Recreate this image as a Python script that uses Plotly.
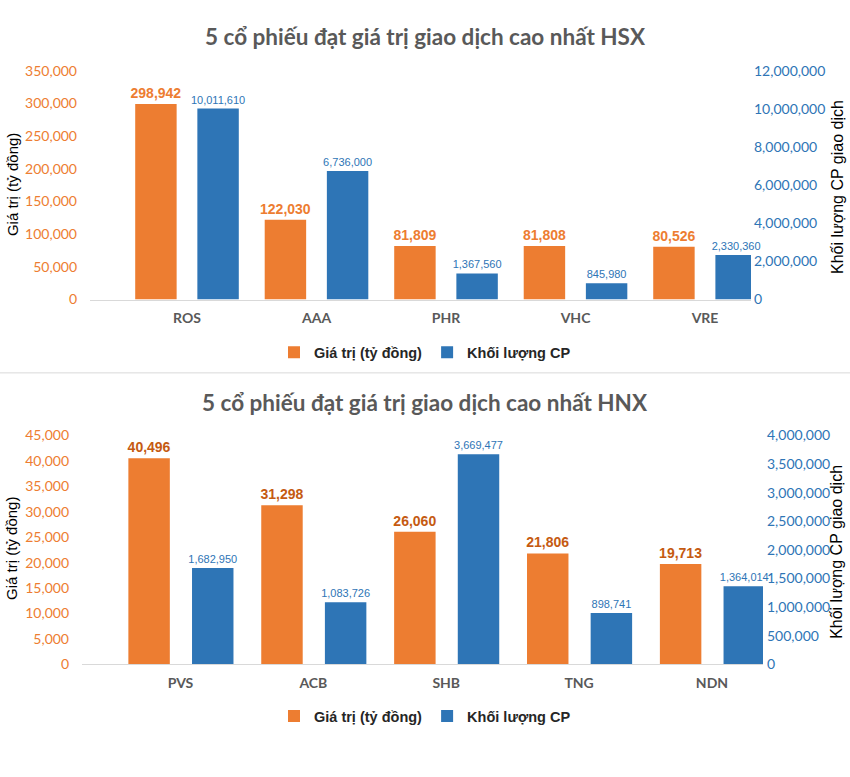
import plotly.graph_objects as go

# ---------------- data ----------------
hsx_codes = ["ROS", "AAA", "PHR", "VHC", "VRE"]
hsx_value = [298942, 122030, 81809, 81808, 80526]
hsx_volume = [10011610, 6736000, 1367560, 845980, 2330360]

hnx_codes = ["PVS", "ACB", "SHB", "TNG", "NDN"]
hnx_value = [40496, 31298, 26060, 21806, 19713]
hnx_volume = [1682950, 1083726, 3669477, 898741, 1364014]

name_value = "Giá trị (tỷ đồng)"
name_volume = "Khối lượng CP"
title_hsx = "5 cổ phiếu đạt giá trị giao dịch cao nhất HSX"
title_hnx = "5 cổ phiếu đạt giá trị giao dịch cao nhất HNX"
ytitle_left = "Giá trị (tỷ đồng)"
ytitle_right = "Khối lượng CP giao dịch"

# ---------------- styles ----------------
ORANGE = "#ED7D31"
ORANGE_DARK = "#C55A11"
BLUE = "#2E75B6"
GREY = "#595959"
W, H = 850, 777
TICKFONT = "Lato, Open Sans, sans-serif"
NARROW = "Liberation Sans Narrow, Arial Narrow, Liberation Sans, sans-serif"


def py(px):
    return (H - px) / H


def pxx(px):
    return px / W


fig = go.Figure()

bar_common = dict(texttemplate="%{y:,.0f}", textposition="outside",
                  cliponaxis=False, constraintext="none", hoverinfo="skip")

# top chart
fig.add_trace(go.Bar(
    x=hsx_codes, y=hsx_value, name=name_value, xaxis="x", yaxis="y",
    marker=dict(color=ORANGE, line=dict(width=0)), width=0.32, offset=-0.40,
    textfont=dict(family=NARROW, size=14, color=ORANGE, weight="bold"),
    legend="legend", **bar_common))
fig.add_trace(go.Bar(
    x=hsx_codes, y=hsx_volume, name=name_volume, xaxis="x", yaxis="y2",
    marker=dict(color=BLUE, line=dict(width=0)), width=0.32, offset=0.08,
    textfont=dict(family=NARROW, size=11, color=BLUE),
    legend="legend", **bar_common))

# bottom chart
fig.add_trace(go.Bar(
    x=hnx_codes, y=hnx_value, name=name_value, xaxis="x2", yaxis="y3",
    marker=dict(color=ORANGE, line=dict(width=0)), width=0.312, offset=-0.392,
    textfont=dict(family=NARROW, size=14, color=ORANGE_DARK, weight="bold"),
    legend="legend2", **bar_common))
fig.add_trace(go.Bar(
    x=hnx_codes, y=hnx_volume, name=name_volume, xaxis="x2", yaxis="y4",
    marker=dict(color=BLUE, line=dict(width=0)), width=0.312, offset=0.087,
    textfont=dict(family=NARROW, size=11, color=BLUE),
    legend="legend2", **bar_common))

xcommon = dict(type="category", showgrid=False, zeroline=False,
               showline=True, linecolor="#D9D9D9", linewidth=1.3,
               ticks="", ticklabelstandoff=6,
               tickfont=dict(family=TICKFONT, size=14, color=GREY, weight="bold"))
ycommon = dict(showgrid=False, zeroline=False, showline=False, ticks="",
               tickformat=",d")

top_dom = [py(297), py(63)]
bot_dom = [py(670), py(436)]

legend_font = dict(family="Liberation Sans, Arial, sans-serif", size=14.5,
                   color="#262626", weight="bold")

fig.update_layout(
    width=W, height=H, margin=dict(l=0, r=0, t=0, b=0),
    paper_bgcolor="white", plot_bgcolor="white",
    barmode="overlay",
    xaxis=dict(xcommon, domain=[pxx(90), pxx(751)], range=[-0.749, 4.355],
               anchor="y"),
    yaxis=dict(ycommon, domain=top_dom, range=[0, 350000], dtick=50000,
               anchor="x", ticklabelstandoff=12,
               tickfont=dict(family=TICKFONT, size=14, color=ORANGE)),
    yaxis2=dict(ycommon, overlaying="y", side="right", range=[0, 12000000],
                dtick=2000000, anchor="x", ticklabelstandoff=2,
                tickfont=dict(family=TICKFONT, size=14, color=BLUE)),
    xaxis2=dict(xcommon, domain=[pxx(82), pxx(763)], range=[-0.741, 4.384],
                anchor="y3"),
    yaxis3=dict(ycommon, domain=bot_dom, range=[0, 45000], dtick=5000,
                anchor="x2", ticklabelstandoff=12,
                tickfont=dict(family=TICKFONT, size=14, color=ORANGE)),
    yaxis4=dict(ycommon, overlaying="y3", side="right", range=[0, 4000000],
                dtick=500000, anchor="x2", ticklabelstandoff=3,
                tickfont=dict(family=TICKFONT, size=14, color=BLUE)),
    legend=dict(orientation="h", x=0.5, xanchor="center", y=py(351),
                yanchor="middle", bgcolor="rgba(0,0,0,0)", font=legend_font,
                itemwidth=30, tracegroupgap=0),
    legend2=dict(orientation="h", x=0.5, xanchor="center", y=py(723),
                 yanchor="middle", bgcolor="rgba(0,0,0,0)", font=legend_font,
                 itemwidth=30, tracegroupgap=0),
    showlegend=True,
)

annos = []
for txt, yy in [(title_hsx, 28), (title_hnx, 402)]:
    annos.append(dict(text=txt, x=0.5, y=py(yy), xref="paper", yref="paper",
                      xanchor="center", yanchor="middle", showarrow=False,
                      font=dict(family="Lato, Open Sans, sans-serif", size=22.5,
                                color=GREY, weight="bold")))
for txt, xx, yy in [(ytitle_left, 12, 180), (ytitle_left, 12, 552)]:
    annos.append(dict(text=txt, x=pxx(xx), y=py(yy), xref="paper", yref="paper",
                      xanchor="center", yanchor="middle", showarrow=False,
                      textangle=-90,
                      font=dict(family="Liberation Sans, Arial, sans-serif",
                                size=15, color="#000000")))
for txt, xx, yy in [(ytitle_right, 837, 182), (ytitle_right, 837, 555)]:
    annos.append(dict(text=txt, x=pxx(xx), y=py(yy), xref="paper", yref="paper",
                      xanchor="center", yanchor="middle", showarrow=False,
                      textangle=-90,
                      font=dict(family="Liberation Sans, Arial, sans-serif",
                                size=16, color="#000000")))
fig.update_layout(annotations=annos)

fig.add_shape(type="line", xref="paper", yref="paper", x0=0, x1=1,
              y0=py(372), y1=py(372), line=dict(color="#D9D9D9", width=1))

fig.write_html("out.html")
